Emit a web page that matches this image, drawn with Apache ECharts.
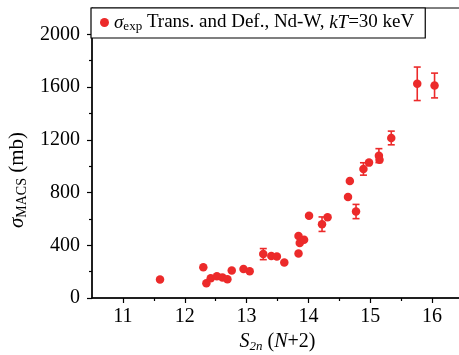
<!DOCTYPE html>
<html>
<head>
<meta charset="utf-8">
<script src="https://cdn.jsdelivr.net/npm/echarts@6/dist/echarts.min.js"></script>
<style>
  html, body { margin: 0; padding: 0; background: #fff; }
  #chart { width: 459px; height: 355px; }
</style>
</head>
<body>
<div id="chart"></div>
<script>
// S2n(N+2) in MeV, MACS at kT=30 keV in mb, error (0 = no bar drawn)
var s2n = [11.60, 12.30, 12.35, 12.42, 12.52, 12.61, 12.69, 12.76, 12.95, 13.05,
  13.27, 13.40, 13.49, 13.61, 13.84, 13.84, 13.86, 13.93, 14.01, 14.22,
  14.31, 14.64, 14.67, 14.77, 14.89, 14.98, 15.14, 15.15, 15.34, 15.76, 16.04];
var macs = [140, 233, 112, 150, 165, 156, 143, 208, 220, 203,
  333, 319, 314, 270, 337, 471, 418, 441, 624, 560,
  612, 766, 888, 656, 979, 1027, 1080, 1049, 1214, 1625, 1612];
var macsErr = [0, 0, 0, 0, 0, 0, 0, 0, 0, 0,
  42, 0, 0, 0, 0, 0, 0, 0, 0, 55,
  0, 0, 0, 54, 47, 0, 53, 0, 52, 127, 94];

var xMajor = [11, 12, 13, 14, 15, 16];
var xMinor = [11.5, 12.5, 13.5, 14.5, 15.5];
var yMajor = [0, 400, 800, 1200, 1600, 2000];
var yMinor = [200, 600, 1000, 1400, 1800];

var red = '#ec2a2a';
var font = 'Liberation Serif';

var points = s2n.map(function (x, i) { return [x, macs[i]]; });
var bars = [];
s2n.forEach(function (x, i) {
  if (macsErr[i] > 0) bars.push([x, macs[i], macsErr[i]]);
});

var rich = {
  i: { fontFamily: font, fontStyle: 'italic', fontSize: 20, color: '#000', lineHeight: 22 },
  n: { fontFamily: font, fontSize: 20, color: '#000', lineHeight: 22 },
  sub: { fontFamily: font, fontSize: 13, color: '#000', verticalAlign: 'bottom', lineHeight: 14 },
  subi: { fontFamily: font, fontSize: 13, fontStyle: 'italic', color: '#000', verticalAlign: 'bottom', lineHeight: 14 }
};
var yRich = {
  i: { fontFamily: font, fontStyle: 'italic', fontSize: 21, color: '#000', lineHeight: 23 },
  n: { fontFamily: font, fontSize: 21, color: '#000', lineHeight: 23 },
  sub: { fontFamily: font, fontSize: 14, color: '#000', verticalAlign: 'bottom', lineHeight: 15 }
};
var legRich = {
  i: { fontFamily: font, fontStyle: 'italic', fontSize: 19, color: '#000', lineHeight: 21 },
  n: { fontFamily: font, fontSize: 19, color: '#000', lineHeight: 21 },
  sub: { fontFamily: font, fontSize: 13, color: '#000', verticalAlign: 'bottom', lineHeight: 13 }
};

var myChart = echarts.init(document.getElementById('chart'));

var option = {
  animation: false,
  grid: {
    left: 92, top: 8, width: 371, height: 290,
    outerBoundsMode: 'none',
    containLabel: false,
    show: true, borderColor: '#000', borderWidth: 1
  },
  legend: {
    left: 91, top: 8,
    padding: [5, 11, 5, 9],
    backgroundColor: '#fff',
    borderColor: '#000',
    borderWidth: 1.2,
    borderRadius: 0,
    itemWidth: 9, itemHeight: 9,
    icon: 'circle',
    data: ['exp'],
    formatter: function () {
      return '{i|σ}{sub|exp}{n| Trans. and Def., Nd-W, }{i|kT}{n|=30 keV}';
    },
    textStyle: { rich: legRich }
  },
  xAxis: [{
    type: 'value', min: 10.5, max: 16.5,
    name: '{i|S}{subi|2n}{n| (}{i|N}{n|+2)}',
    nameLocation: 'middle', nameGap: 33,
    nameTextStyle: { rich: rich },
    axisLine: { lineStyle: { color: '#000', width: 1.5 } },
    axisTick: { customValues: xMajor, length: 5, lineStyle: { color: '#000', width: 1.2 } },
    axisLabel: { customValues: xMajor, fontFamily: font, fontSize: 20, color: '#000', margin: 9 },
    splitLine: { show: false }
  }, {
    type: 'value', min: 10.5, max: 16.5, position: 'bottom',
    axisLine: { show: false },
    axisTick: { customValues: xMinor, length: 3, lineStyle: { color: '#000', width: 1.2 } },
    axisLabel: { show: false },
    splitLine: { show: false }
  }],
  yAxis: [{
    type: 'value', min: 0, max: 2200,
    name: '{i|σ}{sub|MACS}{n| (mb)}',
    nameLocation: 'middle', nameGap: 58,
    nameTextStyle: { rich: yRich, padding: [0, 54, 0, 0] },
    axisLine: { show: true, lineStyle: { color: '#000', width: 1.5 } },
    axisTick: { show: true, customValues: yMajor, length: 5, lineStyle: { color: '#000', width: 1.2 } },
    axisLabel: {
      customValues: yMajor, fontFamily: font, fontSize: 20, color: '#000', margin: 12,
      formatter: function (v) { return String(v); }
    },
    splitLine: { show: false }
  }, {
    type: 'value', min: 0, max: 2200, position: 'left',
    axisLine: { show: false },
    axisTick: { show: true, customValues: yMinor, length: 3, lineStyle: { color: '#000', width: 1.2 } },
    axisLabel: { show: false },
    splitLine: { show: false }
  }],
  series: [{
    type: 'custom',
    name: 'err',
    data: bars,
    renderItem: function (params, api) {
      var x = api.value(0), y = api.value(1), e = api.value(2);
      var top = api.coord([x, y + e]);
      var bot = api.coord([x, y - e]);
      var hw = 3.5;
      var st = { stroke: red, lineWidth: 1.6 };
      return {
        type: 'group',
        children: [
          { type: 'line', shape: { x1: top[0], y1: top[1], x2: bot[0], y2: bot[1] }, style: st },
          { type: 'line', shape: { x1: top[0] - hw, y1: top[1], x2: top[0] + hw, y2: top[1] }, style: st },
          { type: 'line', shape: { x1: bot[0] - hw, y1: bot[1], x2: bot[0] + hw, y2: bot[1] }, style: st }
        ]
      };
    },
    z: 2
  }, {
    type: 'scatter',
    name: 'exp',
    data: points,
    symbol: 'circle',
    symbolSize: 8.5,
    itemStyle: { color: red, opacity: 1 },
    z: 3
  }]
};

myChart.setOption(option);
</script>
</body>
</html>
